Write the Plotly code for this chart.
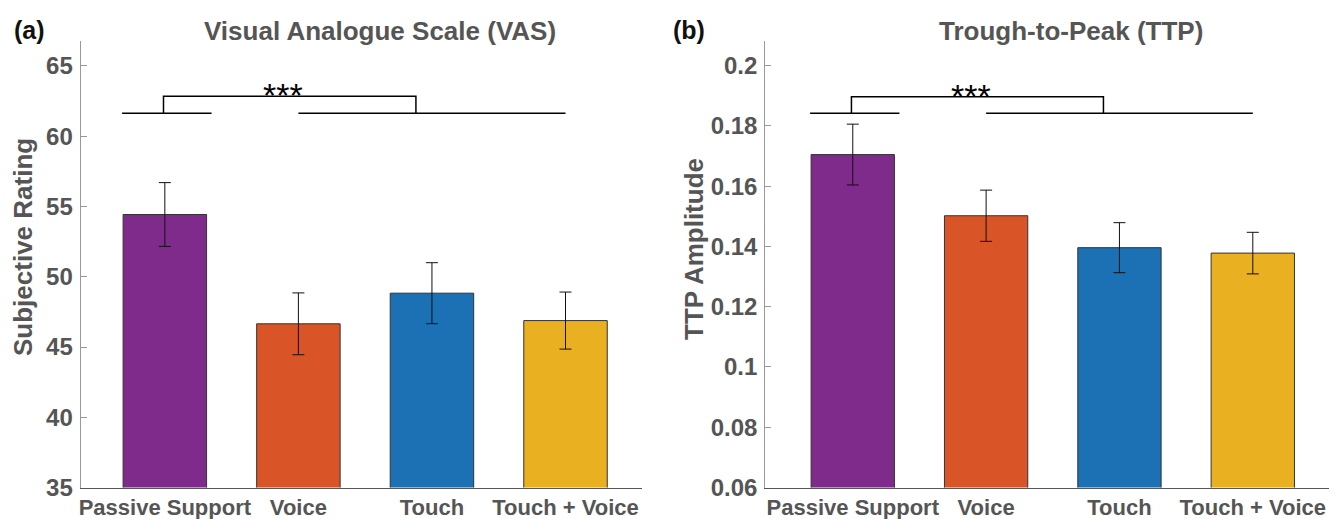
import plotly.graph_objects as go

categories = ["Passive Support", "Voice", "Touch", "Touch + Voice"]
colors = ["#7E2B8B", "#D95427", "#1B71B4", "#E9B021"]

vas_mean = [54.43, 46.65, 48.83, 46.88]
vas_err = [2.27, 2.2, 2.17, 2.03]
vas_ticks = [35, 40, 45, 50, 55, 60, 65]

ttp_mean = [0.1705, 0.1502, 0.1396, 0.1378]
ttp_err = [0.0101, 0.0085, 0.0083, 0.0069]
ttp_ticks = [0.06, 0.08, 0.1, 0.12, 0.14, 0.16, 0.18, 0.2]
ttp_ticktext = ["0.06", "0.08", "0.1", "0.12", "0.14", "0.16", "0.18", "0.2"]

# significance brackets (data units): group lines and connector
sig_group1 = [0.68, 1.35]
sig_group2 = [2.0, 4.0]
sig_connect = [0.99, 2.88]
sig_star_x = 1.887
vas_sig_y = [61.64, 62.84]
ttp_sig_y = [0.1842, 0.1897]

xpos = [1, 2, 3, 4]
FONT = "Liberation Sans"
GRAY = "#555555"
W, H = 1340, 519

fig = go.Figure()
fig.add_trace(go.Bar(
    x=xpos, y=vas_mean, width=0.625,
    marker=dict(color=colors, line=dict(color="#333333", width=1)),
    error_y=dict(type="data", array=vas_err, color="#111111", thickness=1, width=6),
    xaxis="x", yaxis="y", showlegend=False))
fig.add_trace(go.Bar(
    x=xpos, y=ttp_mean, width=0.625,
    marker=dict(color=colors, line=dict(color="#333333", width=1)),
    error_y=dict(type="data", array=ttp_err, color="#111111", thickness=1, width=6),
    xaxis="x2", yaxis="y2", showlegend=False))

ytop = 1 - 40.7 / H
ybot = 1 - 487.5 / H
xfont = dict(family=FONT, size=22, color=GRAY)
yfont = dict(family=FONT, size=24, color=GRAY)
bold_cats = [f"<b>{c}</b>" for c in categories]
common_x = dict(tickvals=xpos, ticktext=bold_cats, tickfont=xfont, showline=True,
                linecolor="#555555", linewidth=1.3, ticks="", showgrid=False,
                zeroline=False, ticklabelstandoff=0, automargin=False)
common_y = dict(tickfont=yfont, showline=True, linecolor="#999999", linewidth=1.3,
                ticks="inside", ticklen=6, tickcolor="#999999", showgrid=False,
                zeroline=False, ticklabelstandoff=2, automargin=False)

fig.update_layout(
    width=W, height=H,
    margin=dict(l=0, r=0, t=0, b=0, autoexpand=False),
    paper_bgcolor="white", plot_bgcolor="white",
    font=dict(family=FONT),
    xaxis=dict(domain=[80.7 / W, 642.3 / W], range=[0.37, 4.575], anchor="y", **common_x),
    yaxis=dict(domain=[ybot, ytop], range=[35, 66.8], tickvals=vas_ticks,
               ticktext=[f"<b>{t}</b>" for t in vas_ticks], anchor="x", **common_y),
    xaxis2=dict(domain=[765.3 / W, 1328.8 / W], range=[0.344, 4.57], anchor="y2", **common_x),
    yaxis2=dict(domain=[ybot, ytop], range=[0.06, 0.2083], tickvals=ttp_ticks,
                ticktext=[f"<b>{t}</b>" for t in ttp_ticktext], anchor="x2", **common_y),
)

# significance brackets
for xa, ya, ys in [("x", "y", vas_sig_y), ("x2", "y2", ttp_sig_y)]:
    line = dict(color="black", width=1.5)
    fig.add_shape(type="line", xref=xa, yref=ya, x0=sig_group1[0], x1=sig_group1[1],
                  y0=ys[0], y1=ys[0], line=line)
    fig.add_shape(type="line", xref=xa, yref=ya, x0=sig_group2[0], x1=sig_group2[1],
                  y0=ys[0], y1=ys[0], line=line)
    fig.add_shape(type="path", xref=xa, yref=ya,
                  path=f"M {sig_connect[0]} {ys[0]} L {sig_connect[0]} {ys[1]} "
                       f"L {sig_connect[1]} {ys[1]} L {sig_connect[1]} {ys[0]}",
                  line=line)
    fig.add_annotation(xref=xa, yref=ya, x=sig_star_x, y=ys[1], text="***", showarrow=False,
                       xanchor="center", yanchor="middle", yshift=1,
                       font=dict(family=FONT, size=34, color="black"))


def label(x, y, text, size, color, angle=0):
    fig.add_annotation(xref="paper", yref="paper", x=x / W, y=1 - y / H, text=text,
                       showarrow=False, xanchor="center", yanchor="middle",
                       textangle=angle, font=dict(family=FONT, size=size, color=color))


label(380, 31, "<b>Visual Analogue Scale (VAS)</b>", 26, GRAY)
label(1071, 31, "<b>Trough-to-Peak (TTP)</b>", 26, GRAY)
label(29, 30, "<b>(a)</b>", 25, "#111111")
label(689, 30, "<b>(b)</b>", 25, "#111111")
label(23, 247, "<b>Subjective Rating</b>", 26, GRAY, -90)
label(694, 249, "<b>TTP Amplitude</b>", 26, GRAY, -90)

fig.write_html("out.html", config={"displayModeBar": False},
               post_script="document.body.style.margin='0px';")
